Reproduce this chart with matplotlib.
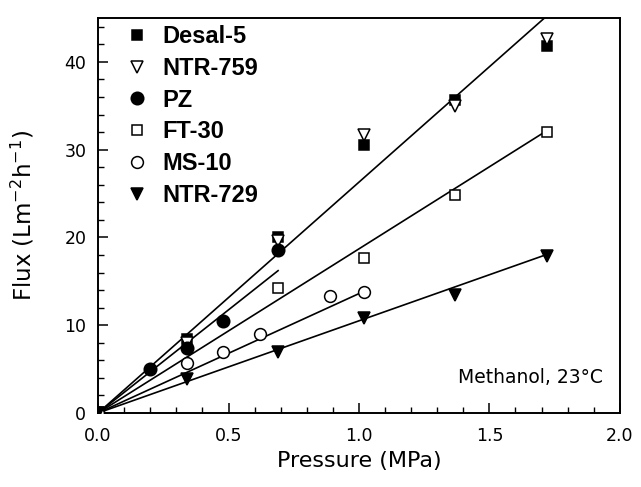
import matplotlib

matplotlib.use("Agg")
import matplotlib.pyplot as plt
import numpy as np
from matplotlib.ticker import MultipleLocator

# membrane data: pressure (MPa), flux (L m-2 h-1)
desal5_p = [0.0, 0.34, 0.69, 1.02, 1.37, 1.72]
desal5_f = [0.0, 8.4, 20.0, 30.5, 35.7, 41.8]
ntr759_p = [0.0, 0.34, 0.69, 1.02, 1.37, 1.72]
ntr759_f = [0.0, 8.0, 19.6, 31.7, 35.0, 42.6]
pz_p = [0.0, 0.20, 0.34, 0.48, 0.69]
pz_f = [0.0, 5.0, 7.4, 10.5, 18.6]
ft30_p = [0.0, 0.69, 1.02, 1.37, 1.72]
ft30_f = [0.0, 14.2, 17.7, 24.8, 32.0]
ms10_p = [0.0, 0.34, 0.48, 0.62, 0.89, 1.02]
ms10_f = [0.0, 5.7, 7.0, 9.0, 13.3, 13.8]
ntr729_p = [0.0, 0.34, 0.69, 1.02, 1.37, 1.72]
ntr729_f = [0.0, 3.9, 7.0, 10.8, 13.4, 17.9]

# straight fit lines through the origin: slope and last pressure
fit_slopes = [26.3, 23.5, 18.7, 13.6, 10.5]
fit_ends = [2.0, 0.69, 1.72, 1.02, 1.72]

fig = plt.figure(figsize=(6.41, 4.87), dpi=100)
ax = fig.add_axes([0.153, 0.152, 0.814, 0.811])

for slope, end in zip(fit_slopes, fit_ends):
    xs = np.array([0.0, end])
    ax.plot(xs, slope * xs, color="black", linewidth=1.2, zorder=2)

series = [
    (desal5_p, desal5_f, "Desal-5", "s", "black", 7.5),
    (ntr759_p, ntr759_f, "NTR-759", "v", "white", 8),
    (pz_p, pz_f, "PZ", "o", "black", 9),
    (ft30_p, ft30_f, "FT-30", "s", "white", 6.5),
    (ms10_p, ms10_f, "MS-10", "o", "white", 8.5),
    (ntr729_p, ntr729_f, "NTR-729", "v", "black", 9),
]
for xs, ys, name, mk, face, size in series:
    ax.plot(xs, ys, linestyle="none", marker=mk, markersize=size,
            markerfacecolor=face, markeredgecolor="black", markeredgewidth=1.1,
            label=name, zorder=3)

ax.set_xlim(0, 2.0)
ax.set_ylim(0, 45)
ax.xaxis.set_major_locator(MultipleLocator(0.5))
ax.xaxis.set_minor_locator(MultipleLocator(0.1))
ax.yaxis.set_major_locator(MultipleLocator(10))
ax.yaxis.set_minor_locator(MultipleLocator(2))
ax.xaxis.set_major_formatter(plt.FuncFormatter(lambda v, _: f"{v:.1f}"))
ax.tick_params(which="both", direction="in", top=False, right=False, labelsize=12.5)
ax.tick_params(axis="x", which="major", pad=10)
ax.tick_params(axis="y", which="major", pad=8.5)
ax.tick_params(which="major", length=7, width=1.1)
ax.tick_params(which="minor", length=4, width=1.0)
for sp in ax.spines.values():
    sp.set_linewidth(1.4)

ax.set_xlabel("Pressure (MPa)", fontsize=16, labelpad=4.5)
ax.set_ylabel("Flux (Lm$^{-2}$h$^{-1}$)", fontsize=16.5, labelpad=20)

ax.text(0.967, 0.089, "Methanol, 23°C", transform=ax.transAxes, ha="right", va="center", fontsize=13.5)

leg = ax.legend(loc="upper left", bbox_to_anchor=(0.052, 0.982), frameon=False,
                handlelength=1.0, handletextpad=0.57, labelspacing=0.37,
                borderaxespad=0.0, borderpad=0.0,
                prop={"family": "Liberation Sans", "size": 17, "weight": "bold"})

fig.savefig("out.png", dpi=100)
